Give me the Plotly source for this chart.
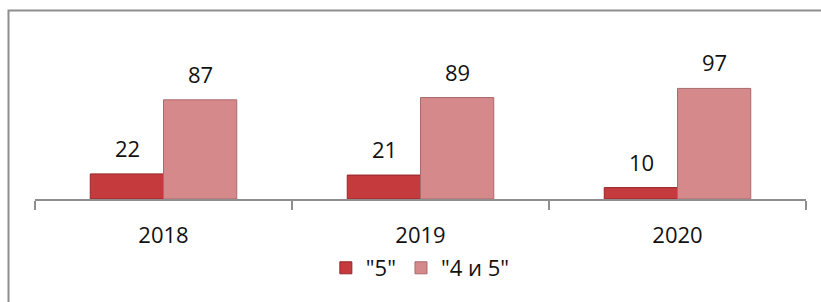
import plotly.graph_objects as go

categories = ["2018", "2019", "2020"]
series_names = ['"5"', '"4 и 5"']
values_5 = [22, 21, 10]
values_45 = [87, 89, 97]

W, H = 821, 302
colors = ["#C43A3D", "#D6898B"]
line_colors = ["#962628", "#A86A6C"]
font_family = "Open Sans, Liberation Sans, Arial, sans-serif"

fig = go.Figure()
for name, vals, c, lc in zip(series_names, [values_5, values_45], colors, line_colors):
    fig.add_trace(go.Bar(
        x=categories, y=vals, name=name,
        marker=dict(color=c, line=dict(color=lc, width=1)),
    ))

# value labels above each bar (x given as category index)
bar_px = 73
for i, vals in enumerate([values_5, values_45]):
    shift = (i - 0.5) * bar_px
    for idx, v in enumerate(vals):
        fig.add_annotation(
            x=idx, y=v, xref="x", yref="y", text=str(v), showarrow=False,
            xshift=shift, yshift=26, yanchor="middle",
            font=dict(size=22, color="#111111", family=font_family),
        )

# outer border (cropped on right and bottom)
fig.add_shape(type="rect", xref="paper", yref="paper",
              x0=8.5 / W, x1=1.02, y0=-0.05, y1=1 - 10.5 / H,
              line=dict(color="#8E8E8E", width=2), fillcolor="rgba(0,0,0,0)", layer="below")

axis_y = 199
fig.update_layout(
    width=W, height=H,
    margin=dict(l=0, r=0, t=0, b=0, autoexpand=False),
    paper_bgcolor="white", plot_bgcolor="white",
    barmode="group", bargap=0.43, bargroupgap=0,
    showlegend=True,
    legend=dict(orientation="h", x=0.512, xanchor="center", y=1 - 268 / H, yanchor="middle",
                font=dict(size=22, color="#111111", family=font_family),
                itemwidth=30, tracegroupgap=0, bgcolor="rgba(0,0,0,0)"),
    xaxis=dict(type="category", range=[-0.5, 2.5], domain=[35 / W, 806 / W], showline=True,
               linecolor="#8E8E8E", linewidth=1.5,
               ticks="outside", tickson="boundaries", ticklen=9, tickcolor="#8E8E8E", tickwidth=1.5,
               tickfont=dict(size=22, color="#111111", family=font_family),
               ticklabelstandoff=16, showgrid=False, automargin=False),
    yaxis=dict(domain=[1 - axis_y / H, 1], range=[0, axis_y / 1.14], visible=False, showgrid=False),
)

fig.write_html("out.html", config={"displayModeBar": False},
               post_script="document.body.style.margin='0';")
